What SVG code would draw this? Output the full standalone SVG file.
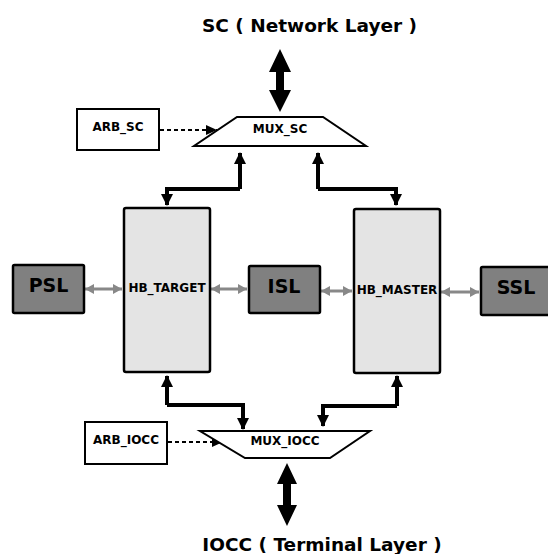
<svg xmlns="http://www.w3.org/2000/svg" width="548" height="554" viewBox="0 0 548 554">
<style>
text{font-family:"DejaVu Sans","Liberation Sans",sans-serif;font-weight:bold;fill:#000;text-anchor:middle}
.title{font-size:18.5px}
.small{font-size:12px}
.big{font-size:19px}
.box{fill:#fff;stroke:#000;stroke-width:2}
.hb{fill:#e4e4e4;stroke:#000;stroke-width:2.5}
.dark{fill:#808080;stroke:#000;stroke-width:2.5}
.mux{fill:#fff;stroke:#000;stroke-width:2}
.bus{fill:none;stroke:#000;stroke-width:4;marker-end:url(#ah)}
.gray{fill:none;stroke:#888;stroke-width:3;marker-start:url(#gs);marker-end:url(#ge)}
.dash{fill:none;stroke:#000;stroke-width:2;stroke-dasharray:4 3;marker-end:url(#dh)}
</style>
<defs>
<marker id="ah" markerUnits="userSpaceOnUse" markerWidth="12" markerHeight="12" refX="11" refY="6" orient="auto">
<path d="M0,0 L12,6 L0,12 Z" fill="#000"/>
</marker>
<marker id="ge" markerUnits="userSpaceOnUse" markerWidth="9" markerHeight="10" refX="9" refY="5" orient="auto">
<path d="M0,0 L9,5 L0,10 Z" fill="#888"/>
</marker>
<marker id="gs" markerUnits="userSpaceOnUse" markerWidth="9" markerHeight="10" refX="0" refY="5" orient="auto">
<path d="M9,0 L0,5 L9,10 Z" fill="#888"/>
</marker>
<marker id="dh" markerUnits="userSpaceOnUse" markerWidth="11" markerHeight="10" refX="11" refY="5" orient="auto">
<path d="M0,0 L11,5 L0,10 Z" fill="#000"/>
</marker>
</defs>
<rect width="548" height="554" fill="#fff"/>

<g id="title-sc"><text class="title" x="309.5" y="32">SC ( Network Layer )</text></g>
<g id="title-iocc"><text class="title" x="322" y="551">IOCC ( Terminal Layer )</text></g>

<g id="connectors">
<polygon points="280,49 291,72 284,72 284,90 291,90 280,112 269,90 276,90 276,72 269,72" fill="#000"/>
<polygon points="287,463 297,484 291,484 291,505 297,505 287,526 277,505 283,505 283,484 277,484" fill="#000"/>
<polyline class="bus" points="240,189 240,153"/>
<polyline class="bus" points="240,189 167,189 167,205"/>
<polyline class="bus" points="318,189 318,153"/>
<polyline class="bus" points="318,189 396,189 396,205"/>
<polyline class="bus" points="167,405 167,376"/>
<polyline class="bus" points="167,405 243,405 243,429"/>
<polyline class="bus" points="397,406 397,376"/>
<polyline class="bus" points="397,406 323,406 323,426"/>
<line class="gray" x1="85" y1="289" x2="122" y2="289"/>
<line class="gray" x1="211" y1="289" x2="247" y2="289"/>
<line class="gray" x1="321" y1="291" x2="352" y2="291"/>
<line class="gray" x1="441" y1="292" x2="479" y2="292"/>
<line class="dash" x1="160" y1="130" x2="217" y2="130"/>
<line class="dash" x1="168" y1="442" x2="223" y2="442"/>
</g>

<g id="mux-sc">
<polygon class="mux" points="237,117 323,117 366,146 194,146"/>
<text class="small" x="280" y="133">MUX_SC</text>
</g>
<g id="mux-iocc">
<polygon class="mux" points="200,431 370,431 330,458 245,458"/>
<text class="small" x="285" y="445">MUX_IOCC</text>
</g>
<g id="arb-sc">
<rect class="box" x="77" y="109" width="82" height="41"/>
<text class="small" x="118" y="131">ARB_SC</text>
</g>
<g id="arb-iocc">
<rect class="box" x="85" y="422" width="82" height="42"/>
<text class="small" x="126" y="444">ARB_IOCC</text>
</g>
<g id="hb-target">
<rect class="hb" x="124" y="208" width="86" height="164" rx="2"/>
<text class="small" x="167" y="292">HB_TARGET</text>
</g>
<g id="hb-master">
<rect class="hb" x="354" y="209" width="86" height="164" rx="2"/>
<text class="small" x="397" y="293.5">HB_MASTER</text>
</g>
<g id="psl">
<rect class="dark" x="13" y="265" width="71" height="48" rx="1.5"/>
<text class="big" x="48.5" y="292">PSL</text>
</g>
<g id="isl">
<rect class="dark" x="249" y="266" width="71" height="47" rx="1.5"/>
<text class="big" x="284" y="293">ISL</text>
</g>
<g id="ssl">
<rect class="dark" x="481" y="267" width="80" height="48" rx="1.5"/>
<text class="big" x="516" y="294">SSL</text>
</g>
</svg>
